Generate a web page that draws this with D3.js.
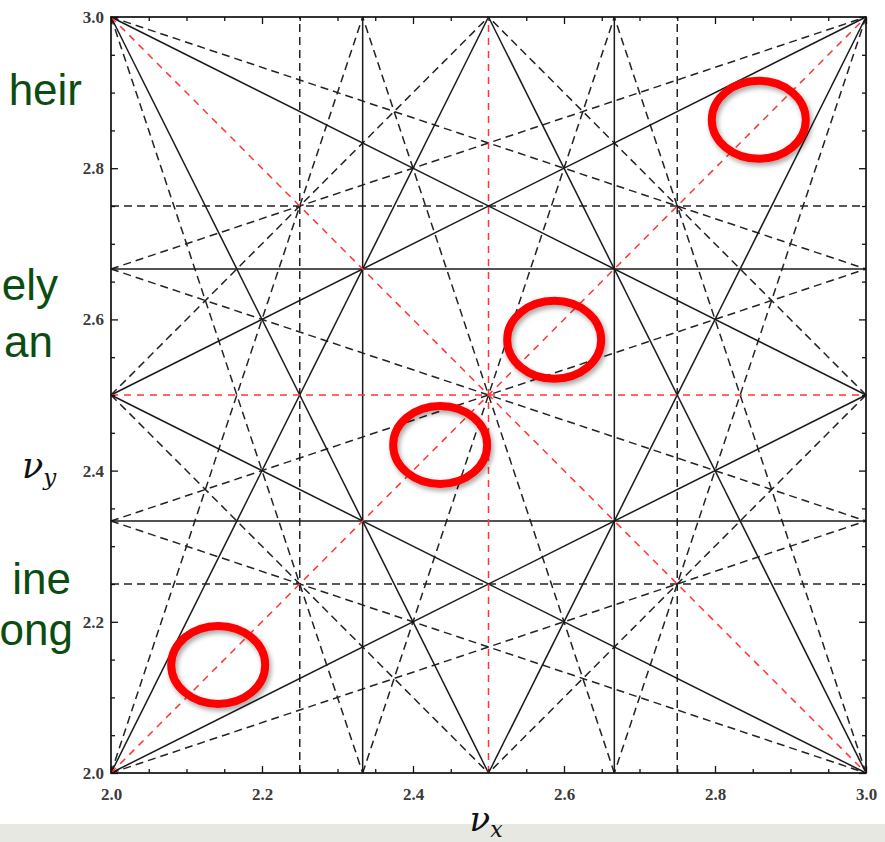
<!DOCTYPE html>
<html>
<head>
<meta charset="utf-8">
<script src="https://cdn.jsdelivr.net/npm/d3@7"></script>
<style>
  html, body { margin: 0; padding: 0; background: #ffffff; overflow: hidden; }
  svg { display: block; }
</style>
</head>
<body>
<svg id="chart" width="885" height="842"></svg>
<script>
// Tune range shown on both axes
const tuneRange = [2, 3];

// Resonance lines m*nux + n*nuy = p, grouped by order
const secondOrder = [[2, 0, 5], [0, 2, 5], [1, 1, 5], [1, -1, 0]];
const thirdOrder = [
  [3, 0, 7], [3, 0, 8], [0, 3, 7], [0, 3, 8],
  [2, 1, 7], [2, 1, 8], [1, 2, 7], [1, 2, 8],
  [2, -1, 2], [2, -1, 3], [1, -2, -3], [1, -2, -2]
];
const fourthOrder = [
  [4, 0, 9], [4, 0, 11], [0, 4, 9], [0, 4, 11],
  [3, 1, 9], [3, 1, 10], [3, 1, 11], [1, 3, 9], [1, 3, 10], [1, 3, 11],
  [3, -1, 4], [3, -1, 5], [3, -1, 6], [1, -3, -6], [1, -3, -5], [1, -3, -4],
  [2, 2, 9], [2, 2, 11], [2, -2, -1], [2, -2, 1]
];

// Axis ticks
const majorTicks = [2.0, 2.2, 2.4, 2.6, 2.8, 3.0];
const minorTicks = [2.05, 2.1, 2.15, 2.25, 2.3, 2.35, 2.45, 2.5, 2.55, 2.65, 2.7, 2.75, 2.85, 2.9, 2.95];

// Highlighted working points (nux, nuy)
const highlights = [[2.858, 2.864], [2.587, 2.573], [2.436, 2.434], [2.142, 2.143]];

// Slide text fragments beside the chart
const sideText = ["heir", "ely", "an", "ine", "ong"];

const svg = d3.select("#chart");
const W = 885, H = 842;
const pLeft = 111, pRight = 866, pTop = 17, pBottom = 773;

const x = d3.scaleLinear().domain(tuneRange).range([pLeft, pRight]);
const y = d3.scaleLinear().domain(tuneRange).range([pBottom, pTop]);

// Slide footer band
svg.append("rect").attr("x", 0).attr("y", 824).attr("width", W).attr("height", H - 824)
  .attr("fill", "#e8e8e2");

// Side text
const sideX = [82, 58, 53, 71, 73];
const sideY = [105, 300, 357, 594, 645];
svg.append("g").selectAll("text").data(sideText).join("text")
  .attr("x", (d, i) => sideX[i]).attr("y", (d, i) => sideY[i])
  .attr("text-anchor", "end")
  .attr("font-family", "Liberation Sans, Arial, sans-serif")
  .attr("font-size", 44).attr("fill", "#0b4d10")
  .text(d => d);

// Plot background
svg.append("rect").attr("x", pLeft).attr("y", pTop)
  .attr("width", pRight - pLeft).attr("height", pBottom - pTop).attr("fill", "#fff");

// Clip a resonance line to the tune square, returning its two end points
function segment([m, n, p]) {
  const [lo, hi] = tuneRange;
  const pts = [];
  const eps = 1e-9;
  if (n !== 0) {
    for (const vx of [lo, hi]) {
      const vy = (p - m * vx) / n;
      if (vy >= lo - eps && vy <= hi + eps) pts.push([vx, vy]);
    }
  }
  if (m !== 0) {
    for (const vy of [lo, hi]) {
      const vx = (p - n * vy) / m;
      if (vx >= lo - eps && vx <= hi + eps) pts.push([vx, vy]);
    }
  }
  const uniq = [];
  for (const q of pts) {
    if (!uniq.some(u => Math.abs(u[0] - q[0]) < 1e-6 && Math.abs(u[1] - q[1]) < 1e-6)) uniq.push(q);
  }
  return uniq.slice(0, 2);
}

const line = d3.line().x(d => x(d[0])).y(d => y(d[1]));
const lines = svg.append("g");

lines.selectAll(".o4").data(fourthOrder).join("path")
  .attr("class", "o4")
  .attr("d", d => line(segment(d)))
  .attr("fill", "none").attr("stroke", "#222").attr("stroke-width", 1.5)
  .attr("stroke-dasharray", "8,5");

lines.selectAll(".o3").data(thirdOrder).join("path")
  .attr("class", "o3")
  .attr("d", d => line(segment(d)))
  .attr("fill", "none").attr("stroke", "#1a1a1a").attr("stroke-width", 1.5);

lines.selectAll(".o2").data(secondOrder).join("path")
  .attr("class", "o2")
  .attr("d", d => line(segment(d)))
  .attr("fill", "none").attr("stroke", "#ff3535").attr("stroke-width", 1.5)
  .attr("stroke-dasharray", "7,6");

// Axes with inward ticks on all four sides
const fmt = d3.format(".1f");
function styleAxis(g) {
  g.select(".domain").remove();
  g.selectAll(".tick line").attr("stroke", "#111").attr("stroke-width", 1.3);
  g.selectAll(".tick text").attr("font-family", "Liberation Serif, Times New Roman, serif")
    .attr("font-size", 17).attr("font-weight", "bold").attr("fill", "#3a3a3a");
}
svg.append("g").attr("transform", `translate(0,${pBottom})`)
  .call(d3.axisBottom(x).tickValues(majorTicks).tickSize(-7).tickPadding(15).tickFormat(fmt)).call(styleAxis);
svg.append("g").attr("transform", `translate(0,${pBottom})`)
  .call(d3.axisBottom(x).tickValues(minorTicks).tickSize(-4).tickFormat("")).call(styleAxis);
svg.append("g").attr("transform", `translate(0,${pTop})`)
  .call(d3.axisTop(x).tickValues(majorTicks).tickSize(-7).tickFormat("")).call(styleAxis);
svg.append("g").attr("transform", `translate(0,${pTop})`)
  .call(d3.axisTop(x).tickValues(minorTicks).tickSize(-4).tickFormat("")).call(styleAxis);
svg.append("g").attr("transform", `translate(${pLeft},0)`)
  .call(d3.axisLeft(y).tickValues(majorTicks).tickSize(-7).tickPadding(7).tickFormat(fmt)).call(styleAxis);
svg.append("g").attr("transform", `translate(${pLeft},0)`)
  .call(d3.axisLeft(y).tickValues(minorTicks).tickSize(-4).tickFormat("")).call(styleAxis);
svg.append("g").attr("transform", `translate(${pRight},0)`)
  .call(d3.axisRight(y).tickValues(majorTicks).tickSize(-7).tickFormat("")).call(styleAxis);
svg.append("g").attr("transform", `translate(${pRight},0)`)
  .call(d3.axisRight(y).tickValues(minorTicks).tickSize(-4).tickFormat("")).call(styleAxis);

// Frame
svg.append("rect").attr("x", pLeft).attr("y", pTop)
  .attr("width", pRight - pLeft).attr("height", pBottom - pTop)
  .attr("fill", "none").attr("stroke", "#111").attr("stroke-width", 1.7);

// Axis titles
const titleFont = "Cambria Math, DejaVu Serif, Liberation Serif, serif";
const tx = svg.append("text").attr("x", 486).attr("y", 831).attr("text-anchor", "middle")
  .attr("font-family", titleFont).attr("font-style", "italic").attr("font-size", 34).attr("fill", "#111");
tx.append("tspan").text("ν");
tx.append("tspan").attr("font-size", 22).attr("dy", 6).text("x");
const ty = svg.append("text").attr("x", 22).attr("y", 478)
  .attr("font-family", titleFont).attr("font-style", "italic").attr("font-size", 35).attr("fill", "#111");
ty.append("tspan").text("ν");
ty.append("tspan").attr("font-size", 23).attr("dy", 7).text("y");

// Highlight ellipses
const defs = svg.append("defs");
const f = defs.append("filter").attr("id", "shadow").attr("x", "-30%").attr("y", "-30%")
  .attr("width", "160%").attr("height", "160%");
f.append("feDropShadow").attr("dx", 2).attr("dy", 3).attr("stdDeviation", 2.5)
  .attr("flood-color", "#000").attr("flood-opacity", 0.35);

svg.append("g").selectAll("ellipse").data(highlights).join("ellipse")
  .attr("cx", d => x(d[0])).attr("cy", d => y(d[1]))
  .attr("rx", 47).attr("ry", 39)
  .attr("fill", "none").attr("stroke", "#ff0000").attr("stroke-width", 8)
  .attr("filter", "url(#shadow)");
</script>
</body>
</html>
